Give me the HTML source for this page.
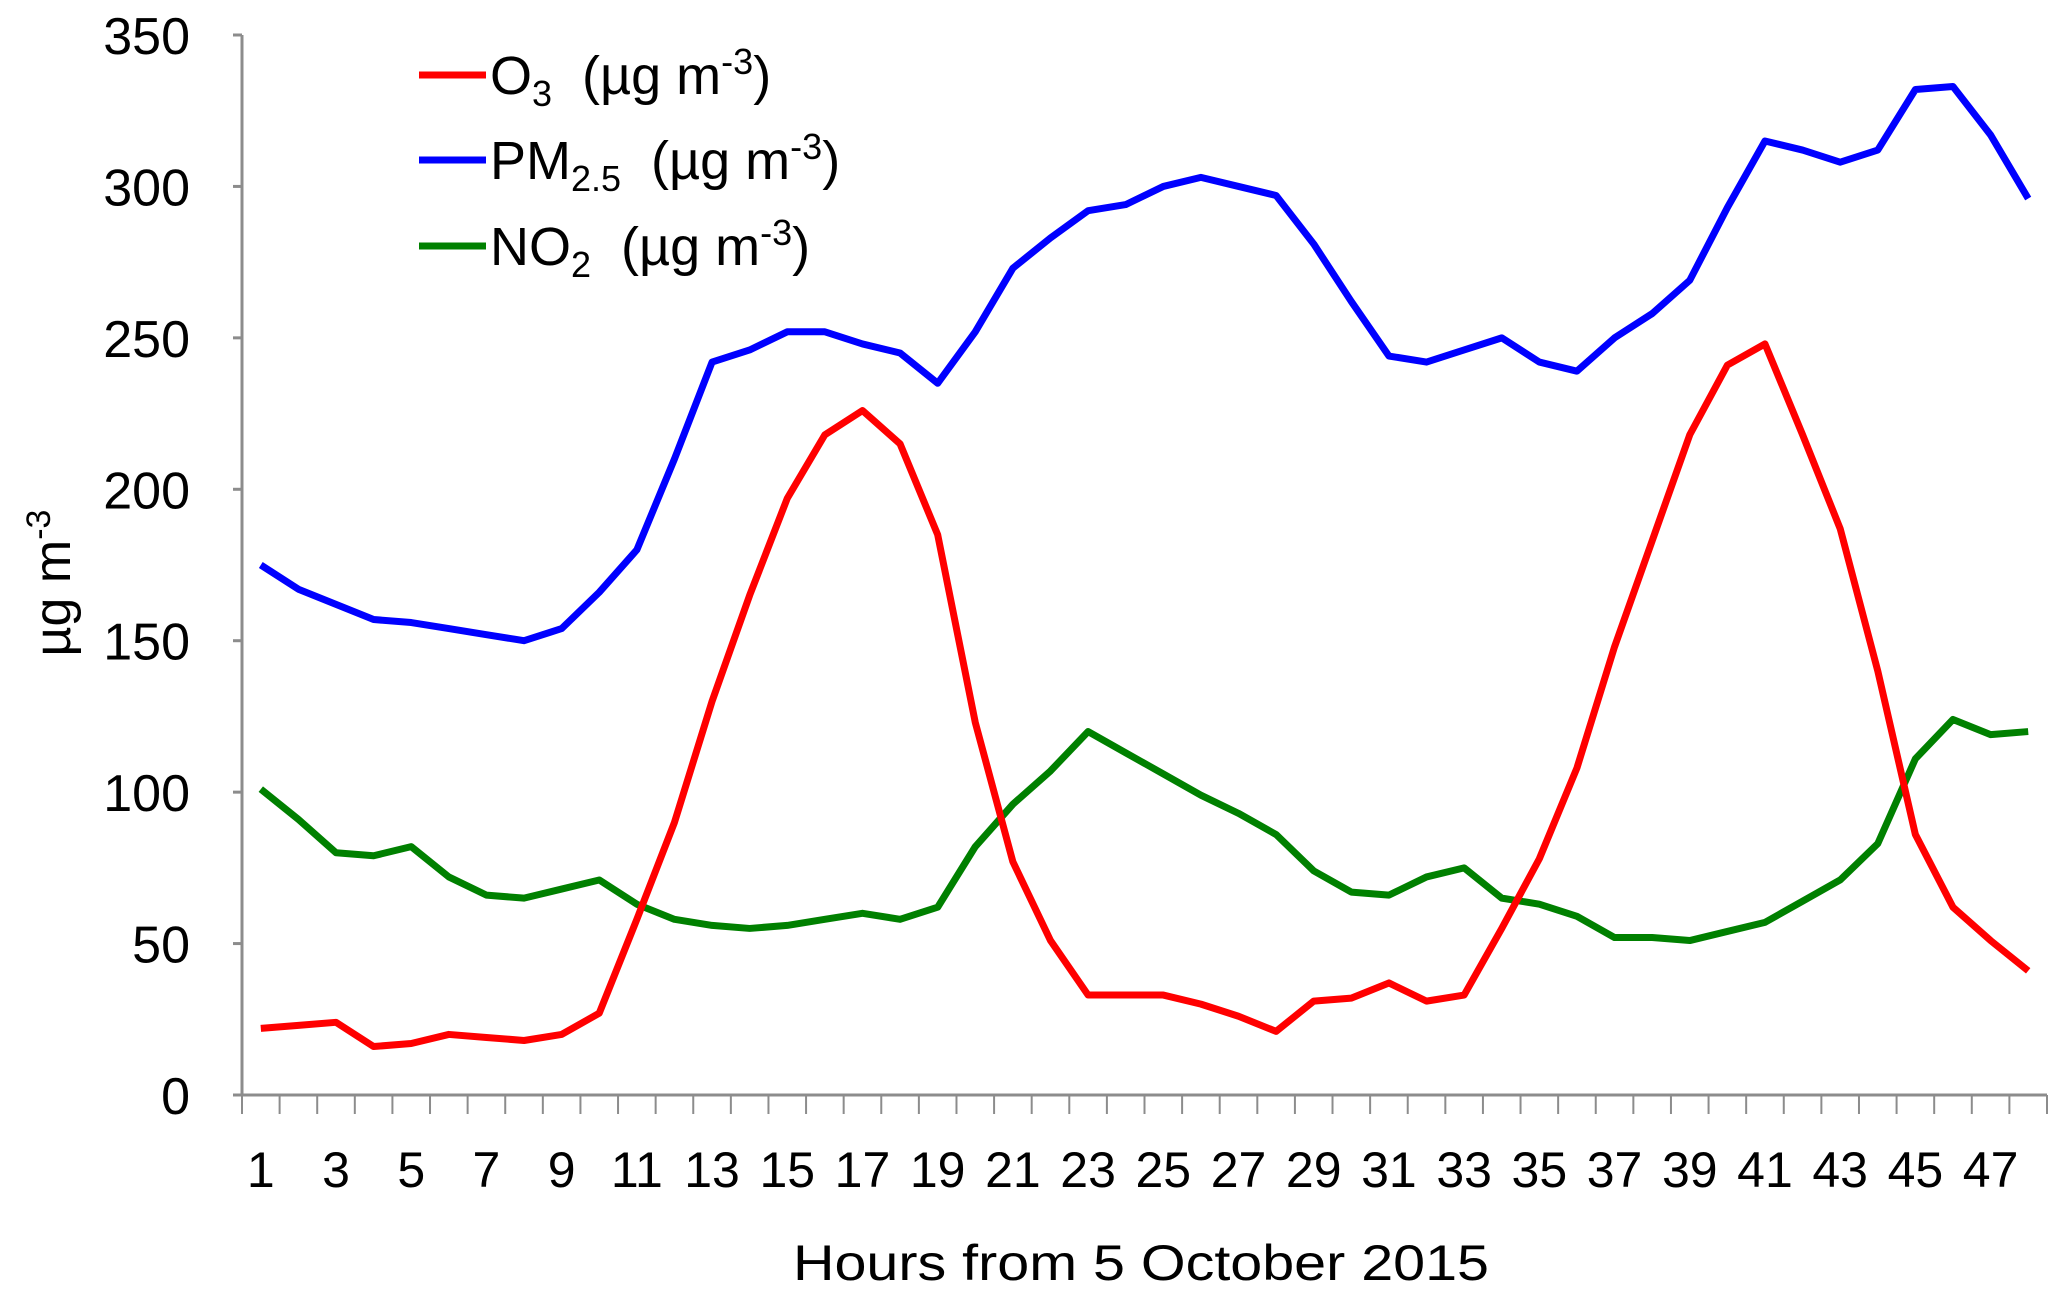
<!DOCTYPE html>
<html><head><meta charset="utf-8"><style>
body{margin:0;background:#fff}
svg{display:block;font-family:"Liberation Sans",sans-serif}
</style></head><body>
<svg id="chart" width="2067" height="1291" viewBox="0 0 2067 1291" xmlns="http://www.w3.org/2000/svg">
<g id="axes"></g>
<g id="series"></g>
<g id="legend"></g>
<text x="1141" y="1280" font-size="50" text-anchor="middle" textLength="696" lengthAdjust="spacingAndGlyphs">Hours from 5 October 2015</text>
<text transform="translate(70,583) rotate(-90)" font-size="52" text-anchor="middle">µg m<tspan dy="-20" font-size="34">-3</tspan></text>
</svg>
<script>
const hours=[];for(let i=1;i<=48;i++)hours.push(i);
const o3=[22,23,24,16,17,20,19,18,20,27,58,90,130,165,197,218,226,215,185,123,77,51,33,33,33,30,26,21,31,32,37,31,33,55,78,108,148,183,218,241,248,218,187,140,86,62,51,41];
const pm25=[175,167,162,157,156,154,152,150,154,166,180,210,242,246,252,252,248,245,235,252,273,283,292,294,300,303,300,297,281,262,244,242,246,250,242,239,250,258,269,293,315,312,308,312,332,333,317,296];
const no2=[101,91,80,79,82,72,66,65,68,71,63,58,56,55,56,58,60,58,62,82,96,107,120,113,106,99,93,86,74,67,66,72,75,65,63,59,52,52,51,54,57,64,71,83,111,124,119,120];
const yTicks=[0,50,100,150,200,250,300,350];
const NS="http://www.w3.org/2000/svg";
const X0=242,X1=2047,Y0=1095,Y1=35,YMAX=350;
const bw=(X1-X0)/hours.length;
function xs(i){return X0+bw*(i+0.5);}
function ys(v){return Y0-(v/YMAX)*(Y0-Y1);}
function mk(tag,attrs,parent){const e=document.createElementNS(NS,tag);for(const k in attrs)e.setAttribute(k,attrs[k]);parent.appendChild(e);return e;}
const axes=document.getElementById('axes');
let e=mk('line',{x1:X0,y1:Y1,x2:X0,y2:Y0,stroke:'#8c8c8c','stroke-width':3},axes);


e=mk('line',{x1:X0,y1:Y0,x2:X1,y2:Y0,stroke:'#8c8c8c','stroke-width':3},axes);


yTicks.forEach(v=>{
  const t=mk('line',{x1:X0-9,y1:ys(v),x2:X0,y2:ys(v),stroke:'#8c8c8c','stroke-width':3},axes);
  
  
  const l=mk('text',{x:190,y:ys(v)+19,'font-size':52,'text-anchor':'end'},axes);
  l.textContent=v;
  
  
});
for(let i=0;i<=hours.length;i++){
  const t=mk('line',{x1:X0+bw*i,y1:Y0,x2:X0+bw*i,y2:1114,stroke:'#8c8c8c','stroke-width':2},axes);
  
  
}
hours.forEach((h,i)=>{
  if(h%2===1){
    const l=mk('text',{x:xs(i),y:1187,'font-size':50,'text-anchor':'middle'},axes);
    l.textContent=h;
    
    
  }
});
const sg=document.getElementById('series');
[[no2,'#008000','no2-line'],[pm25,'#0000ff','pm25-line'],[o3,'#ff0000','o3-line']].forEach(([d,c,n])=>{
  const p=mk('polyline',{points:d.map((v,i)=>xs(i)+','+ys(v)).join(' '),fill:'none',stroke:c,'stroke-width':7,'stroke-linejoin':'round'},sg);
  
  
});
const lg=document.getElementById('legend');
const items=[['#ff0000','O','3',75],['#0000ff','PM','2.5',160],['#008000','NO','2',246]];
items.forEach(([c,a,sub,y])=>{
  const l=mk('line',{x1:419,y1:y,x2:486,y2:y,stroke:c,'stroke-width':7},lg);
  
  
  const t=mk('text',{x:490,y:y+19,'font-size':54},lg);
  
  
  t.innerHTML=a+'<tspan dy="12" font-size="36">'+sub+'</tspan><tspan dy="-12" xml:space="preserve">  (µg m</tspan><tspan dy="-20" font-size="36">-3</tspan><tspan dy="20">)</tspan>';
});
</script>
</body></html>
